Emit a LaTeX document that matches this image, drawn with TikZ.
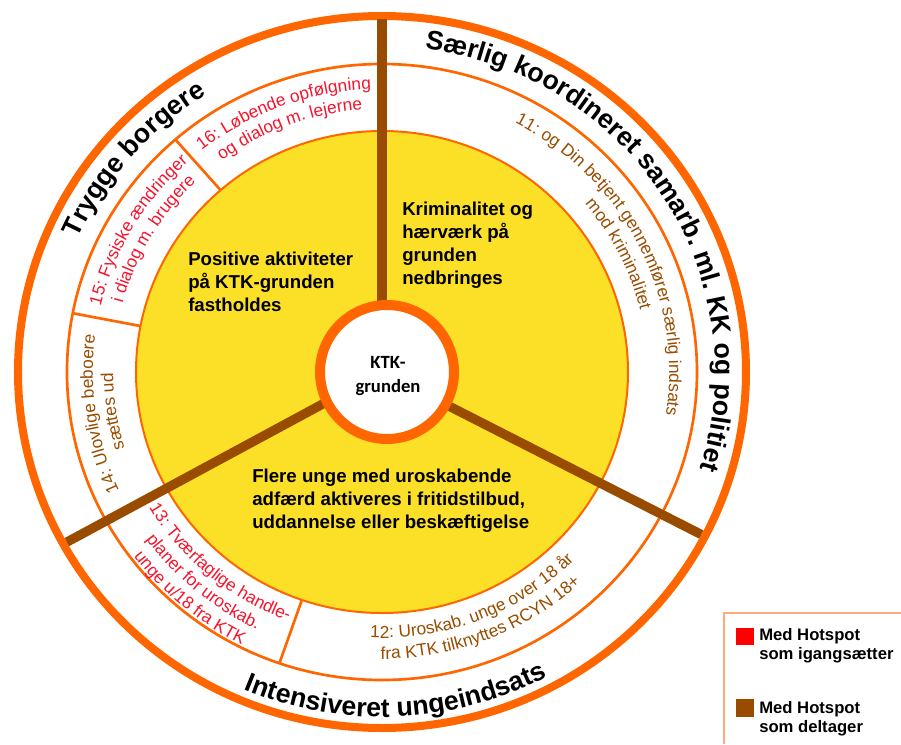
\documentclass[tikz,border=0pt]{standalone}
\usepackage{fontspec}
\setmainfont{Liberation Sans}
\newfontfamily\calibri{Carlito}
\usetikzlibrary{decorations.text}
\definecolor{hsorange}{RGB}{255,102,0}
\definecolor{hsyellow}{RGB}{252,224,40}
\definecolor{hsbrown}{RGB}{153,76,0}
\definecolor{hsred}{RGB}{245,20,45}
\definecolor{hsframe}{RGB}{255,170,120}
\tikzset{
  sep/.style={hsorange, line width=2pt},
  spoke/.style={hsbrown, line width=7pt},
  goal/.style={align=left, anchor=north west, inner sep=0pt, font=\bfseries\fontsize{14}{17.25}\selectfont},
  key/.style={align=left, anchor=north west, inner sep=0pt, font=\bfseries\fontsize{12.5}{14}\selectfont},
  curved/.style={decorate, decoration={text along path, text align=center, text={#1}}}
}
\begin{document}
\begin{tikzpicture}[x=0.75pt,y=0.75pt]
\useasboundingbox (-382,-372) rectangle (519,372);

\draw[hsorange, line width=6pt] (0,0) ellipse [x radius=364, y radius=356];
\draw[hsorange, line width=2pt] (0,0) ellipse [x radius=315, y radius=308];
\filldraw[fill=hsyellow, draw=hsorange, line width=1.5pt] (0,0) ellipse [x radius=246, y radius=241];

\draw[sep] ({246*cos(131)},{241*sin(131)}) -- ({315*cos(131)},{308*sin(131)});
\draw[sep] ({246*cos(169)},{241*sin(169)}) -- ({315*cos(169)},{308*sin(169)});
\draw[sep] ({246*cos(251)},{241*sin(251)}) -- ({315*cos(251)},{308*sin(251)});

\draw[spoke] (0,0) -- (0,353);
\draw[spoke] (0,0) -- ({360*cos(208.9)},{352*sin(208.9)});
\draw[spoke] (0,0) -- ({360*cos(-27.5)},{352*sin(-27.5)});

\node[circle, draw=hsorange, fill=white, line width=7.5pt, minimum size=100.5pt, inner sep=0pt] (ktk) at (5,0) {};
\node[align=center, inner sep=0pt, font=\calibri\bfseries\fontsize{14}{18}\selectfont] (ktklabel) at (6,-4.5) {KTK-\\grunden};

%Beschriftung
\path[curved={|\bfseries\fontsize{20}{24}\selectfont|Trygge borgere}]
  ({333.2*cos(178)},{326*sin(178)}) arc [start angle=178, end angle=100, x radius=333.2, y radius=326];
\path[curved={|\bfseries\fontsize{20}{24}\selectfont|Særlig koordineret samarb. ml. KK og politiet}]
  ({333.2*cos(100)},{326*sin(100)}) arc [start angle=100, end angle=-35, x radius=333.2, y radius=326];
\path[curved={|\bfseries\fontsize{20}{24}\selectfont|Intensiveret ungeindsats}]
  ({352.6*cos(215)},{345*sin(215)}) arc [start angle=215, end angle=330, x radius=352.6, y radius=345];

\path[curved={|\color{hsred}\fontsize{13}{15}\selectfont|16: Løbende opfølgning}]
  ({289.2*cos(150)},{283*sin(150)}) arc [start angle=150, end angle=71, x radius=289.2, y radius=283];
\path[curved={|\color{hsred}\fontsize{13}{15}\selectfont|og dialog m. lejerne}]
  ({268.8*cos(150)},{263*sin(150)}) arc [start angle=150, end angle=71, x radius=268.8, y radius=263];
\path[curved={|\color{hsred}\fontsize{13}{15}\selectfont|15: Fysiske ændringer}]
  ({289.2*cos(190)},{283*sin(190)}) arc [start angle=190, end angle=109, x radius=289.2, y radius=283];
\path[curved={|\color{hsred}\fontsize{13}{15}\selectfont|i dialog m. brugere}]
  ({268.8*cos(190)},{263*sin(190)}) arc [start angle=190, end angle=109, x radius=268.8, y radius=263];
\path[curved={|\color{hsbrown}\fontsize{13}{15}\selectfont|14: Ulovlige beboere}]
  ({289.2*cos(228)},{283*sin(228)}) arc [start angle=228, end angle=149, x radius=289.2, y radius=283];
\path[curved={|\color{hsbrown}\fontsize{13}{15}\selectfont|sættes ud}]
  ({268.8*cos(228)},{263*sin(228)}) arc [start angle=228, end angle=149, x radius=268.8, y radius=263];
\path[curved={|\color{hsred}\fontsize{13}{15}\selectfont|13: Tværfaglige handle-}]
  ({270.8*cos(190)},{265*sin(190)}) arc [start angle=190, end angle=270, x radius=270.8, y radius=265];
\path[curved={|\color{hsred}\fontsize{13}{15}\selectfont|planer for uroskab.}]
  ({291.3*cos(190)},{285*sin(190)}) arc [start angle=190, end angle=270, x radius=291.3, y radius=285];
\path[curved={|\color{hsred}\fontsize{13}{15}\selectfont|unge u/18 fra KTK}]
  ({311.7*cos(190)},{305*sin(190)}) arc [start angle=190, end angle=270, x radius=311.7, y radius=305];
\path[curved={|\color{hsbrown}\fontsize{13}{15}\selectfont|12: Uroskab. unge over 18 år}]
  ({271.9*cos(230)},{266*sin(230)}) arc [start angle=230, end angle=353, x radius=271.9, y radius=266];
\path[curved={|\color{hsbrown}\fontsize{13}{15}\selectfont|fra KTK tilknyttes RCYN 18+}]
  ({293.3*cos(230)},{287*sin(230)}) arc [start angle=230, end angle=353, x radius=293.3, y radius=287];
\path[curved={|\color{hsbrown}\fontsize{13}{15}\selectfont|11: og Din betjent gennemfører særlig indsats}]
  ({287.2*cos(110)},{281*sin(110)}) arc [start angle=110, end angle=-57, x radius=287.2, y radius=281];
\path[curved={|\color{hsbrown}\fontsize{13}{15}\selectfont|mod kriminalitet}]
  ({265.7*cos(110)},{260*sin(110)}) arc [start angle=110, end angle=-57, x radius=265.7, y radius=260];

\node[goal] (crime) at (20,170) {Kriminalitet og\\hærværk på\\grunden\\nedbringes};
\node[goal] (positive) at (-194,120) {Positive aktiviteter\\på KTK-grunden\\fastholdes};
\node[goal] (youth) at (-130,-97) {Flere unge med uroskabende\\adfærd aktiveres i fritidstilbud,\\uddannelse eller beskæftigelse};

% legend
\draw[hsframe, line width=1.2pt] (519,-241) -- (342,-241) -- (342,-372);
\fill[red] (354,-256) rectangle (372,-273);
\fill[hsbrown] (354,-327) rectangle (372,-345);
\node[key] (starter) at (377,-256) {Med Hotspot\\som igangsætter};
\node[key] (member) at (377,-329) {Med Hotspot\\som deltager};
\end{tikzpicture}
\end{document}
